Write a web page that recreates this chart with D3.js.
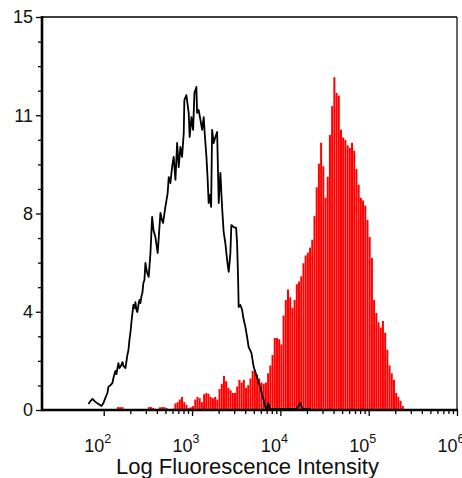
<!DOCTYPE html>
<html>
<head>
<meta charset="utf-8">
<script src="https://cdn.jsdelivr.net/npm/d3@7"></script>
<style>
  body { margin: 0; background: #fff; }
  svg { display: block; font-family: "Liberation Sans", Arial, sans-serif; }
</style>
</head>
<body>
<svg id="chart" width="462" height="478"></svg>
<script>
"use strict";

// y axis: ticks sit at quarters of 15, labels are the rounded values
const yTickValues = [0, 3.75, 7.5, 11.25, 15];
const yTickLabels = ["0", "4", "8", "11", "15"];
const xTickExponents = [2, 3, 4, 5, 6];
const xLabel = "Log Fluorescence Intensity";

// red (stained) histogram: bins of 0.025 decade starting at 10^2
const redBinStartLog = 2.0;
const redBinWidthLog = 0.025;
const redCounts = [
  0, 0, 0, 0, 0, 0, 0.11, 0.11, 0.11, 0,
  0, 0, 0, 0, 0, 0, 0, 0, 0, 0,
  0.11, 0.11, 0.08, 0, 0, 0.1, 0.11, 0.11, 0.08, 0,
  0, 0.05, 0.25, 0.3, 0.4, 0.5, 0.3, 0.2, 0.08, 0.1,
  0.15, 0.4, 0.5, 0.45, 0.3, 0.6, 0.65, 0.62, 0.5, 0.45,
  0.5, 0.4, 0.8, 1.0, 1.3, 1.1, 0.85, 0.75, 0.65, 0.65,
  0.9, 1.15, 1.05, 1.15, 0.85, 0.95, 1.2, 1.5, 1.45, 1.35,
  1.2, 1.05, 1.0, 1.05, 1.4, 1.7, 2.1, 2.75, 2.75, 2.7,
  2.5, 3.6, 4.2, 4.6, 4.3, 3.9, 4.2, 4.8, 4.9, 5.1,
  5.6, 5.9, 6.0, 6.2, 6.5, 7.4, 8.5, 9.4, 10.2, 9.3,
  8.1, 8.9, 10.5, 11.6, 12.7, 12.1, 12.0, 10.7, 10.4, 10.3,
  10.1, 10.0, 10.2, 9.9, 9.2, 8.6, 8.1, 8.0, 7.8, 7.25,
  6.6, 5.8, 4.2, 3.7, 3.35, 3.15, 3.4, 2.95, 2.3, 1.7,
  1.4, 1.15, 0.65, 0.5, 0.35, 0.15, 0
];

// black (control) histogram outline: log10 intensity and count
const blackLog = [
  1.827, 1.849, 1.872, 1.906, 1.940, 1.974, 1.997, 2.019, 2.042, 2.053,
  2.076, 2.098, 2.110, 2.132, 2.144, 2.166, 2.178, 2.200, 2.212, 2.223,
  2.246, 2.268, 2.280, 2.291, 2.302, 2.314, 2.325, 2.336, 2.348, 2.359,
  2.370, 2.381, 2.393, 2.404, 2.415, 2.427, 2.438, 2.449, 2.461, 2.472,
  2.489, 2.509, 2.529, 2.548, 2.563, 2.585, 2.596, 2.611, 2.625, 2.642,
  2.659, 2.672, 2.698, 2.724, 2.736, 2.755, 2.774, 2.792, 2.812, 2.831,
  2.849, 2.868, 2.887, 2.906, 2.913, 2.936, 2.962, 2.973, 2.993, 3.012,
  3.027, 3.049, 3.057, 3.075, 3.095, 3.114, 3.132, 3.143, 3.163, 3.177,
  3.188, 3.202, 3.216, 3.227, 3.245, 3.264, 3.284, 3.302, 3.312, 3.321,
  3.340, 3.358, 3.377, 3.397, 3.415, 3.434, 3.445, 3.471, 3.499, 3.510,
  3.521, 3.528, 3.547, 3.567, 3.581, 3.604, 3.623, 3.641, 3.672, 3.698,
  3.717, 3.736, 3.754, 3.774, 3.793, 3.811, 3.830, 3.847, 3.864, 3.881,
  3.977, 4.181, 4.226, 4.249, 4.340
];
const blackCount = [
  0.23, 0.34, 0.42, 0.31, 0.23, 0.15, 0.27, 0.46, 0.65, 0.88,
  0.95, 1.03, 1.22, 1.49, 1.37, 1.79, 1.60, 1.72, 1.83, 1.68,
  1.60, 2.10, 2.29, 2.67, 2.94, 3.36, 3.70, 4.01, 3.89, 4.12,
  3.82, 3.74, 4.01, 4.20, 4.08, 4.35, 4.47, 4.85, 4.96, 5.61,
  5.27, 5.08, 5.99, 7.37, 6.87, 6.60, 6.34, 5.99, 6.68, 7.52,
  7.25, 7.14, 7.75, 8.28, 8.89, 8.66, 9.27, 9.66, 8.78, 10.19,
  9.27, 10.04, 9.66, 10.57, 11.83, 12.02, 11.34, 10.42, 11.18, 10.69,
  12.10, 12.33, 11.34, 11.45, 11.07, 10.69, 11.18, 10.57, 9.66, 8.78,
  7.90, 8.21, 7.75, 10.69, 10.19, 10.42, 10.61, 7.90, 8.59, 9.05,
  7.75, 6.79, 6.37, 5.73, 5.27, 5.99, 7.06, 6.98, 6.95, 6.37,
  5.08, 3.93, 4.01, 3.82, 3.51, 3.17, 2.79, 2.40, 2.18, 1.64,
  1.45, 1.26, 1.03, 0.88, 0.57, 0.38, 0.11, 0.04, 0.27, 0.04,
  0.04, 0.04, 0.27, 0.04, 0.04
];

const plotLeft = 42, plotRight = 457, plotTop = 17, plotBottom = 410;

const svg = d3.select("#chart");

const x = d3.scaleLog().domain([20, 1e6]).range([plotLeft, plotRight]);
const y = d3.scaleLinear().domain([0, 15]).range([plotBottom, plotTop]);

// red filled histogram (thin light seams between bins)
svg.append("g")
  .selectAll("rect")
  .data(redCounts)
  .join("rect")
  .attr("x", (d, i) => x(10 ** (redBinStartLog + redBinWidthLog * i)))
  .attr("width", (d, i) =>
    Math.max(0, x(10 ** (redBinStartLog + redBinWidthLog * (i + 1))) -
      x(10 ** (redBinStartLog + redBinWidthLog * i)) - 0.2))
  .attr("y", (d) => y(d))
  .attr("height", (d) => plotBottom - y(d))
  .attr("fill", "#ff0000");

// black outline histogram
const blackPoints = blackLog.map((v, i) => [10 ** v, blackCount[i]]);
svg.append("path")
  .datum(blackPoints)
  .attr("fill", "none")
  .attr("stroke", "#000")
  .attr("stroke-width", 1.8)
  .attr("stroke-linejoin", "round")
  .attr("d", d3.line().x((d) => x(d[0])).y((d) => y(d[1])));

// frame: thin top and right
svg.append("line")
  .attr("x1", plotLeft).attr("x2", plotRight).attr("y1", plotTop).attr("y2", plotTop)
  .attr("stroke", "#000").attr("stroke-width", 1.5);
svg.append("line")
  .attr("x1", plotRight).attr("x2", plotRight).attr("y1", plotTop).attr("y2", plotBottom)
  .attr("stroke", "#000").attr("stroke-width", 1.2);

// y axis, minor ticks every quarter between labelled ticks
const yMinor = d3.range(0, 15.001, 0.9375).filter((v) => !yTickValues.includes(v));
svg.append("g")
  .attr("transform", `translate(${plotLeft},0)`)
  .call(d3.axisLeft(y).tickValues(yMinor).tickFormat("").tickSize(4).tickSizeOuter(0))
  .call((g) => g.select(".domain").remove())
  .call((g) => g.selectAll("line").attr("stroke-width", 1.3));

svg.append("g")
  .attr("transform", `translate(${plotLeft},0)`)
  .call(d3.axisLeft(y).tickValues(yTickValues)
    .tickFormat((d, i) => yTickLabels[i]).tickSize(6).tickSizeOuter(0).tickPadding(3))
  .call((g) => g.select(".domain").remove())
  .call((g) => g.selectAll("line").attr("stroke-width", 1.3))
  .call((g) => g.selectAll("text")
    .attr("font-size", 18)
    .attr("font-family", "Liberation Sans, Arial, sans-serif")
    .attr("fill", "#111"));

// x axis, log decades with minor ticks 2..9
const xMajor = xTickExponents.map((e) => 10 ** e);
const xMinor = [];
xTickExponents.slice(0, -1).forEach((e) => {
  for (let k = 2; k <= 9; k++) xMinor.push(k * 10 ** e);
});

svg.append("g")
  .attr("transform", `translate(0,${plotBottom})`)
  .call(d3.axisBottom(x).tickValues(xMinor).tickFormat("").tickSize(4).tickSizeOuter(0))
  .call((g) => g.select(".domain").remove())
  .call((g) => g.selectAll("line").attr("stroke-width", 1.3));

svg.append("g")
  .attr("transform", `translate(0,${plotBottom})`)
  .call(d3.axisBottom(x).tickValues(xMajor).tickSize(6).tickSizeOuter(0))
  .call((g) => g.select(".domain").remove())
  .call((g) => g.selectAll("line").attr("stroke-width", 1.3))
  .call((g) => g.selectAll(".tick text").each(function (d) {
    const t = d3.select(this);
    t.text("10")
      .attr("text-anchor", "start")
      .attr("x", -20)
      .attr("y", 42)
      .attr("dy", 0)
      .attr("font-size", 18)
      .attr("font-family", "Liberation Sans, Arial, sans-serif")
      .attr("fill", "#111");
    t.append("tspan")
      .attr("dy", -9)
      .attr("font-size", 12.5)
      .text(Math.round(Math.log10(d)));
  }));

// thick left and bottom axis lines
svg.append("line")
  .attr("x1", plotLeft).attr("x2", plotLeft).attr("y1", plotTop - 1).attr("y2", plotBottom + 1.2)
  .attr("stroke", "#000").attr("stroke-width", 2.6);
svg.append("line")
  .attr("x1", plotLeft).attr("x2", plotRight + 1).attr("y1", plotBottom).attr("y2", plotBottom)
  .attr("stroke", "#000").attr("stroke-width", 2.6);

// axis title
svg.append("text")
  .attr("x", (113 + 382) / 2)
  .attr("y", 474)
  .attr("text-anchor", "middle")
  .attr("font-size", 22)
  .attr("fill", "#111")
  .text(xLabel);
</script>
</body>
</html>
